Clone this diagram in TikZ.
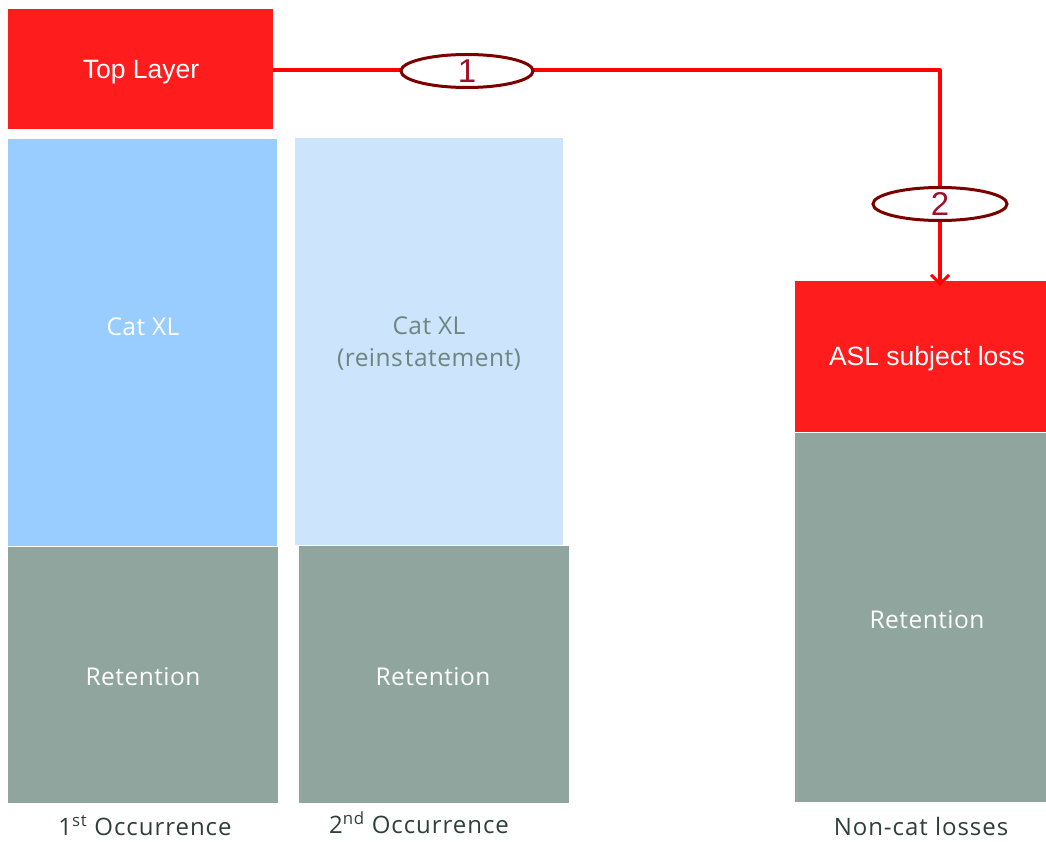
\documentclass[tikz,border=0pt]{standalone}
\usepackage{fontspec}
\setmainfont{Liberation Sans}
\newfontfamily\labelfont[LetterSpace=2]{Open Sans}
\newfontfamily\capfont[LetterSpace=4]{Open Sans}
\usetikzlibrary{shapes.geometric,arrows.meta}
\definecolor{layerred}{HTML}{FF1C1C}
\definecolor{catblue}{HTML}{99CCFF}
\definecolor{catpale}{HTML}{CCE5FC}
\definecolor{retgray}{HTML}{91A59F}
\definecolor{linkred}{HTML}{FF0000}
\definecolor{ovalred}{HTML}{7A0000}
\definecolor{numred}{HTML}{A0102A}
\definecolor{captext}{HTML}{2F3F3A}
\definecolor{paletext}{HTML}{6E8580}
\tikzset{
  x=1pt, y=-1pt,
  block/.style={inner sep=0pt, outer sep=0pt},
  redtxt/.style={text=white, font=\fontsize{26.5}{30}\selectfont},
  bartxt/.style={text=white, font=\labelfont\fontsize{24.5}{32}\selectfont, align=center},
  captxt/.style={text=captext, font=\capfont\fontsize{24}{28}\selectfont},
  oval/.style={ellipse, draw=ovalred, line width=3pt, fill=white, inner sep=0pt,
    text=numred, font=\fontsize{33}{34}\selectfont},
  link/.style={draw=linkred, line width=3.2pt},
}
\begin{document}
\begin{tikzpicture}
\useasboundingbox (0,0) rectangle (1046,842);
% bars
\fill[layerred] (8,9) rectangle (273,129);
\fill[catblue] (8,139) rectangle (277,546);
\fill[retgray] (8,547) rectangle (278,803);
\fill[catpale] (295,138) rectangle (563,545);
\fill[retgray] (299,546) rectangle (569,803);
\fill[layerred] (795,281) rectangle (1046,432);
\fill[retgray] (795,433) rectangle (1046,802);
% text of the bars
\node[block, redtxt] (top) at (141,72) {Top Layer};
\coordinate (topright) at (273,70);
\node[bartxt] (cat1) at (143,327) {Cat XL};
\node[bartxt] (ret1) at (143,677) {Retention};
\node[bartxt, text=paletext] (cat2) at (429,344) {Cat XL\\(reins\hspace{2pt}tatement)};
\node[bartxt] (ret2) at (433,677) {Retention};
\node[block, redtxt] (asl) at (927,359) {ASL subject loss};
\coordinate (asltop) at (940,286);
\node[bartxt] (ret3) at (927,620) {Retention};
\node[captxt] (cap1) at (145,826) {1\textsuperscript{st} Occurrence};
\node[captxt] (cap2) at (419,823) {2\textsuperscript{nd} Occurrence};
\node[captxt] (cap3) at (921,826) {Non-cat losses};
% connector from the top layer to the subject loss
\coordinate (bend) at (940,70);
\draw[link, line join=round, -{Straight Barb[length=9pt,width=18pt,line width=3pt]}] (topright) -- (bend) -- (asltop);
\node[oval, minimum width=132pt, minimum height=33pt] (n1) at (467,71) {1};
\node[oval, minimum width=134pt, minimum height=33pt] (n2) at (940,204) {2};
\end{tikzpicture}
\end{document}
